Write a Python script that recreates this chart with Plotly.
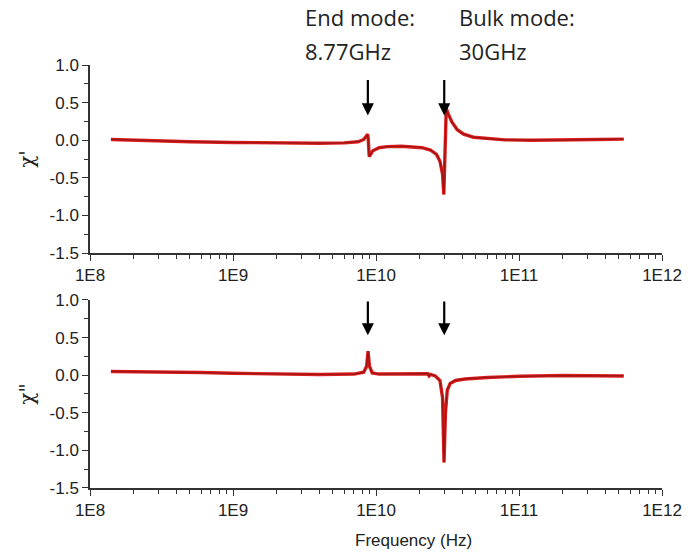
import numpy as np
import plotly.graph_objects as go
from plotly.subplots import make_subplots

f_real_ghz = [0.14, 0.2, 0.3, 0.5, 1, 2, 4, 6, 7.5, 8.2, 8.6, 8.75, 8.82, 8.9, 8.97,
              9.1, 9.5, 10.5, 12, 15, 18, 21, 24, 26.5, 28, 29.2, 29.8, 30.2, 30.6,
              31.0, 32, 34, 37, 41, 48, 60, 80, 120, 200, 350, 540]
chi_real = [0.01, 0.0, -0.01, -0.02, -0.03, -0.04, -0.04, -0.035, -0.02, 0.01, 0.05,
            0.08, 0.02, -0.12, -0.22, -0.2, -0.14, -0.1, -0.085, -0.08, -0.085, -0.1,
            -0.13, -0.19, -0.28, -0.45, -0.72, -0.3, 0.2, 0.42, 0.35, 0.24, 0.14, 0.08,
            0.04, 0.02, 0.005, 0.0, 0.0, 0.01, 0.015]

# χ'' (imaginary part)
f_imag_ghz = [0.14, 0.3, 0.6, 1, 2, 4, 7, 8.2, 8.6, 8.8, 9.0, 9.4, 10.5, 15, 20, 23,
              23.5, 24, 26, 28, 29.2, 29.9, 30.6, 31.5, 33, 36, 42, 60, 100, 200, 540]
chi_imag = [0.05, 0.045, 0.035, 0.025, 0.015, 0.01, 0.015, 0.04, 0.12, 0.32, 0.12, 0.03,
            0.015, 0.02, 0.025, 0.02, -0.01, 0.01, -0.01, -0.07, -0.3, -1.16, -0.5, -0.2,
            -0.11, -0.07, -0.05, -0.03, -0.015, -0.005, -0.01]

mode_freqs_ghz = [8.77, 30]
mode_names = ["End mode:", "Bulk mode:"]
mode_labels = ["8.77GHz", "30GHz"]

x_tickvals = [1e8, 1e9, 1e10, 1e11, 1e12]
x_ticktext = ["1E8", "1E9", "1E10", "1E11", "1E12"]
y_tickvals = [1.0, 0.5, 0.0, -0.5, -1.0, -1.5]
y_ticktext = ["1.0", "0.5", "0.0", "-0.5", "-1.0", "-1.5"]

minor_x = [m * 10 ** d for d in range(8, 12) for m in range(2, 10)]
minor_y = [0.75, 0.25, -0.25, -0.75, -1.25]

fig = make_subplots(rows=2, cols=1, vertical_spacing=0.111)

red = "#dc2020"
core = "#9a1212"
for row, fx, vy in ((1, f_real_ghz, chi_real), (2, f_imag_ghz, chi_imag)):
    xs = [f * 1e9 for f in fx]
    fig.add_trace(go.Scatter(x=xs, y=vy, mode="lines", line=dict(color=red, width=3.4),
                             showlegend=False, hoverinfo="skip"), row=row, col=1)
    fig.add_trace(go.Scatter(x=xs, y=vy, mode="lines", line=dict(color=core, width=1.2),
                             showlegend=False), row=row, col=1)

font_family = "Liberation Sans, Arial, sans-serif"
axcol = "#333333"
for r in (1, 2):
    fig.update_xaxes(type="log", range=[8, 12], tickvals=x_tickvals, ticktext=x_ticktext,
                     ticks="outside", ticklen=6, tickwidth=1.3, tickcolor=axcol,
                     showline=True, linecolor=axcol, linewidth=1.5, showgrid=False,
                     zeroline=False, tickfont=dict(family=font_family, size=17, color="#222"),
                     minor=dict(tickvals=minor_x, ticks="outside", ticklen=4,
                                tickwidth=1.2, tickcolor=axcol, showgrid=False),
                     row=r, col=1)
    fig.update_yaxes(range=[-1.5, 1.0], tickvals=y_tickvals, ticktext=y_ticktext,
                     ticks="outside", ticklen=6, tickwidth=1.3, tickcolor=axcol,
                     showline=True, linecolor=axcol, linewidth=1.5, showgrid=False,
                     zeroline=False, tickfont=dict(family=font_family, size=17, color="#222"),
                     minor=dict(tickvals=minor_y, ticks="outside", ticklen=4,
                                tickwidth=1.2, tickcolor=axcol, showgrid=False),
                     row=r, col=1)

fig.update_yaxes(title=dict(text="χ'", font=dict(family="DejaVu Serif", size=20, color="#222"),
                            standoff=10), row=1, col=1)
fig.update_yaxes(title=dict(text='χ"', font=dict(family="DejaVu Serif", size=20, color="#222"),
                            standoff=10), row=2, col=1)

# x-axis title (sits right of centre in the original)
fig.add_annotation(x=0.565, y=-0.123, xref="paper", yref="paper", text="Frequency (Hz)",
                   showarrow=False, xanchor="center", yanchor="middle",
                   font=dict(family=font_family, size=17, color="#222"))

# arrows
for f in mode_freqs_ghz:
    lx = np.log10(f * 1e9)
    fig.add_annotation(x=lx, y=0.33, ax=lx, ay=0.82, xref="x", yref="y", axref="x", ayref="y",
                       showarrow=True, arrowhead=2, arrowsize=1.1, arrowwidth=2.2,
                       arrowcolor="black", text="")
    fig.add_annotation(x=lx, y=0.53, ax=lx, ay=1.0, xref="x2", yref="y2", axref="x2",
                       ayref="y2", showarrow=True, arrowhead=2, arrowsize=1.1, arrowwidth=2.2,
                       arrowcolor="black", text="")

# mode labels (above top plot)
label_font = dict(family="Open Sans, sans-serif", size=22, color="#222")
label_x = [0.3726, 0.641]
for xp, name, lab in zip(label_x, mode_names, mode_labels):
    fig.add_annotation(x=xp, y=1.113, xref="paper", yref="paper", text=name, showarrow=False,
                       xanchor="left", yanchor="middle", font=label_font)
    fig.add_annotation(x=xp, y=1.033, xref="paper", yref="paper", text=lab, showarrow=False,
                       xanchor="left", yanchor="middle", font=label_font)

fig.update_layout(width=694, height=556, margin=dict(l=90, r=27, t=65, b=68),
                  plot_bgcolor="white", paper_bgcolor="white")

fig.write_html("out.html")
